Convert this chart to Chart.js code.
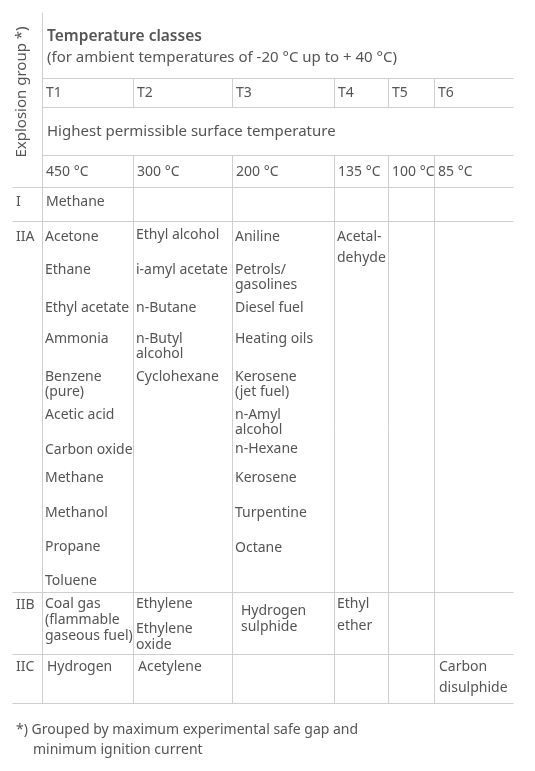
<!DOCTYPE html>
<html><head><meta charset="utf-8">
<script src="https://cdn.jsdelivr.net/npm/chart.js@4"></script>
<style>body{margin:0;background:#fff}</style>
</head><body>
<canvas id="tbl" width="535" height="771"></canvas>
<script>
// table content
var classes = ['T1', 'T2', 'T3', 'T4', 'T5', 'T6'];
var maxTemps = ['450 °C', '300 °C', '200 °C', '135 °C', '100 °C', '85 °C'];
var groups = ['I', 'IIA', 'IIB', 'IIC'];
var groupI = [['Methane'], [], [], [], [], []];
var groupIIA = [
   ['Acetone', 'Ethane', 'Ethyl acetate', 'Ammonia', 'Benzene\n(pure)', 'Acetic acid', 'Carbon oxide', 'Methane', 'Methanol', 'Propane', 'Toluene'],
   ['Ethyl alcohol', 'i-amyl acetate', 'n-Butane', 'n-Butyl\nalcohol', 'Cyclohexane'],
   ['Aniline', 'Petrols/\ngasolines', 'Diesel fuel', 'Heating oils', 'Kerosene\n(jet fuel)', 'n-Amyl\nalcohol', 'n-Hexane', 'Kerosene', 'Turpentine', 'Octane'],
   ['Acetal-\ndehyde'], [], []
];
var groupIIB = [['Coal gas\n(flammable\ngaseous fuel)'], ['Ethylene', 'Ethylene\noxide'], ['Hydrogen\nsulphide'], ['Ethyl\nether'], [], []];
var groupIIC = [['Hydrogen'], ['Acetylene'], [], [], [], ['Carbon\ndisulphide']];

// layout (table units = px of the 535x771 page)
var colX = [42, 133, 232, 334, 388, 434, 513];
var rowsY = [187, 221, 592, 654, 703];
var iiaY = [
   [237, 270, 308, 339, 377, 415, 450, 478, 513, 547, 581],
   [235, 270, 308, 339, 377],
   [237, 270, 308, 339, 377, 415, 449, 478, 513, 548],
   [237]
];

var tablePlugin = {
   id: 'tablePlugin',
   afterDraw: function (chart) {
      var c = chart.ctx, xs = chart.scales.x, ys = chart.scales.y;
      var X = function (v) { return xs.getPixelForValue(v); };
      var Y = function (v) { return ys.getPixelForValue(v); };
      var font = '14px "Noto Sans", sans-serif';
      c.save();
      c.strokeStyle = '#cfcfcf'; c.lineWidth = 1;
      function line(x1, y1, x2, y2) { c.beginPath(); c.moveTo(X(x1) + 0.5, Y(y1) + 0.5); c.lineTo(X(x2) + 0.5, Y(y2) + 0.5); c.stroke(); }
      line(42, 12, 42, 703);
      [78, 107, 155].forEach(function (y) { line(42, y, 513, y); });
      rowsY.forEach(function (y) { line(12, y, 513, y); });
      colX.slice(1, 6).forEach(function (x) { line(x, 78, x, 107); line(x, 155, x, 703); });

      c.fillStyle = '#555'; c.textBaseline = 'middle';
      function text(s, x, y, lh) {
         s.split('\n').forEach(function (t, i) { c.fillText(t, X(x), Y(y + i * (lh || 16))); });
      }
      c.font = '600 15.5px "Noto Sans", sans-serif';
      text('Temperature classes', 47, 37);
      c.font = '15px "Noto Sans", sans-serif';
      text('(for ambient temperatures of -20 °C up to + 40 °C)', 47, 58);
      text('Highest permissible surface temperature', 47, 132);
      c.font = font;
      classes.forEach(function (t, i) { text(t, colX[i] + 4, 93); });
      maxTemps.forEach(function (t, i) { text(t, colX[i] + 4, 172); });
      var gy = [202, 237, 605, 667];
      groups.forEach(function (g, i) { text(g, 16, gy[i]); });
      groupI.forEach(function (col, i) { col.forEach(function (s) { text(s, colX[i] + 4, 202); }); });
      groupIIA.forEach(function (col, i) {
         col.forEach(function (s, j) { text(s, colX[i] + 3, iiaY[i][j], i == 3 ? 21 : 15); });
      });
      var iibY = [[604], [604, 629], [611], [604]];
      groupIIB.forEach(function (col, i) {
         col.forEach(function (s, j) { text(s, colX[i] + (i == 2 ? 9 : 3), iibY[i][j], i == 3 ? 22 : 16); });
      });
      groupIIC.forEach(function (col, i) { col.forEach(function (s) { text(s, colX[i] + 5, 667, 21); }); });
      text('*) Grouped by maximum experimental safe gap and', 16, 730);
      text('minimum ignition current', 33, 750);
      c.font = '15px "Noto Sans", sans-serif';
      c.translate(X(22), Y(92)); c.rotate(-Math.PI / 2);
      c.textAlign = 'center';
      c.fillText('Explosion group *)', 0, 0);
      c.restore();
   }
};

new Chart('tbl', {
   type: 'scatter',
   data: { datasets: [{ data: [] }] },
   options: {
      responsive: false,
      animation: false,
      layout: { padding: 0 },
      plugins: { legend: { display: false }, tooltip: { enabled: false } },
      scales: {
         x: { display: false, min: 0, max: 535 },
         y: { display: false, min: 0, max: 771, reverse: true }
      }
   },
   plugins: [tablePlugin]
});
</script>
</body></html>
